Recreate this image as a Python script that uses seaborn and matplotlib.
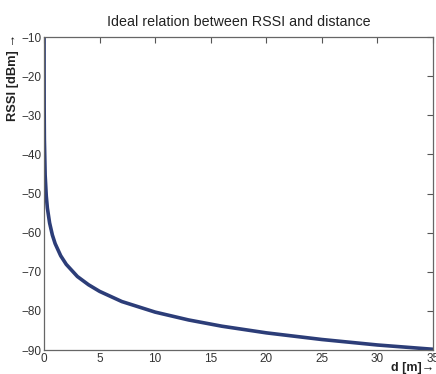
import matplotlib
matplotlib.use("Agg")
import matplotlib.pyplot as plt
import seaborn as sns
import pandas as pd

# values
distance_m = [0.001, 0.003, 0.01, 0.03, 0.1, 0.2, 0.3, 0.5, 0.75, 1, 1.5, 2, 3, 4, 5,
              7, 10, 13, 16, 20, 25, 30, 35]
rssi_dbm = [-10, -18.6, -27.8, -36.1, -45.3, -50.6, -53.7, -57.5, -60.6, -62.8, -65.9,
            -68.1, -71.2, -73.3, -75.0, -77.6, -80.3, -82.3, -83.9, -85.6, -87.3, -88.7, -89.8]
x_ticks = [0, 5, 10, 15, 20, 25, 30, 35]
y_ticks = [-90, -80, -70, -60, -50, -40, -30, -20, -10]

sns.set_style("white")
plt.rcParams['font.family'] = ['Liberation Sans', 'DejaVu Sans']

df = pd.DataFrame({"d": distance_m, "rssi": rssi_dbm})

fig = plt.figure(figsize=(4.36, 3.74), dpi=100)
ax = fig.add_axes([0.101, 0.064, 0.892, 0.837])
sns.lineplot(data=df, x="d", y="rssi", ax=ax, color="#2c3d78", linewidth=2.6)

ax.set_xlim(0, 35)
ax.set_ylim(-90, -10)
ax.set_xticks(x_ticks)
ax.set_yticks(y_ticks)
ax.set_xticklabels([str(t) for t in x_ticks])
ax.set_yticklabels(["\u2212" + str(abs(t)) for t in y_ticks])
ax.set_xlabel("")
ax.set_ylabel("")
ax.tick_params(direction="in", length=4, width=0.8, colors="#555555",
               labelcolor="#333333", labelsize=8.5, top=True, right=True,
               labeltop=False, labelright=False, pad=2)
for s in ax.spines.values():
    s.set_color("#666666")
    s.set_linewidth(0.9)

ax.set_title("Ideal relation between RSSI and distance", fontsize=10.3, color="#222222", pad=8)
fig.text(0.03, 0.91, "RSSI [dBm] \u2192", rotation=90, ha="center", va="top",
         fontsize=9.3, fontweight="bold", color="#222222")
fig.text(0.897, 0.0, "d [m]\u2192", ha="left", va="bottom", fontsize=9,
         fontweight="bold", color="#222222")

fig.savefig("out.png", dpi=100)
